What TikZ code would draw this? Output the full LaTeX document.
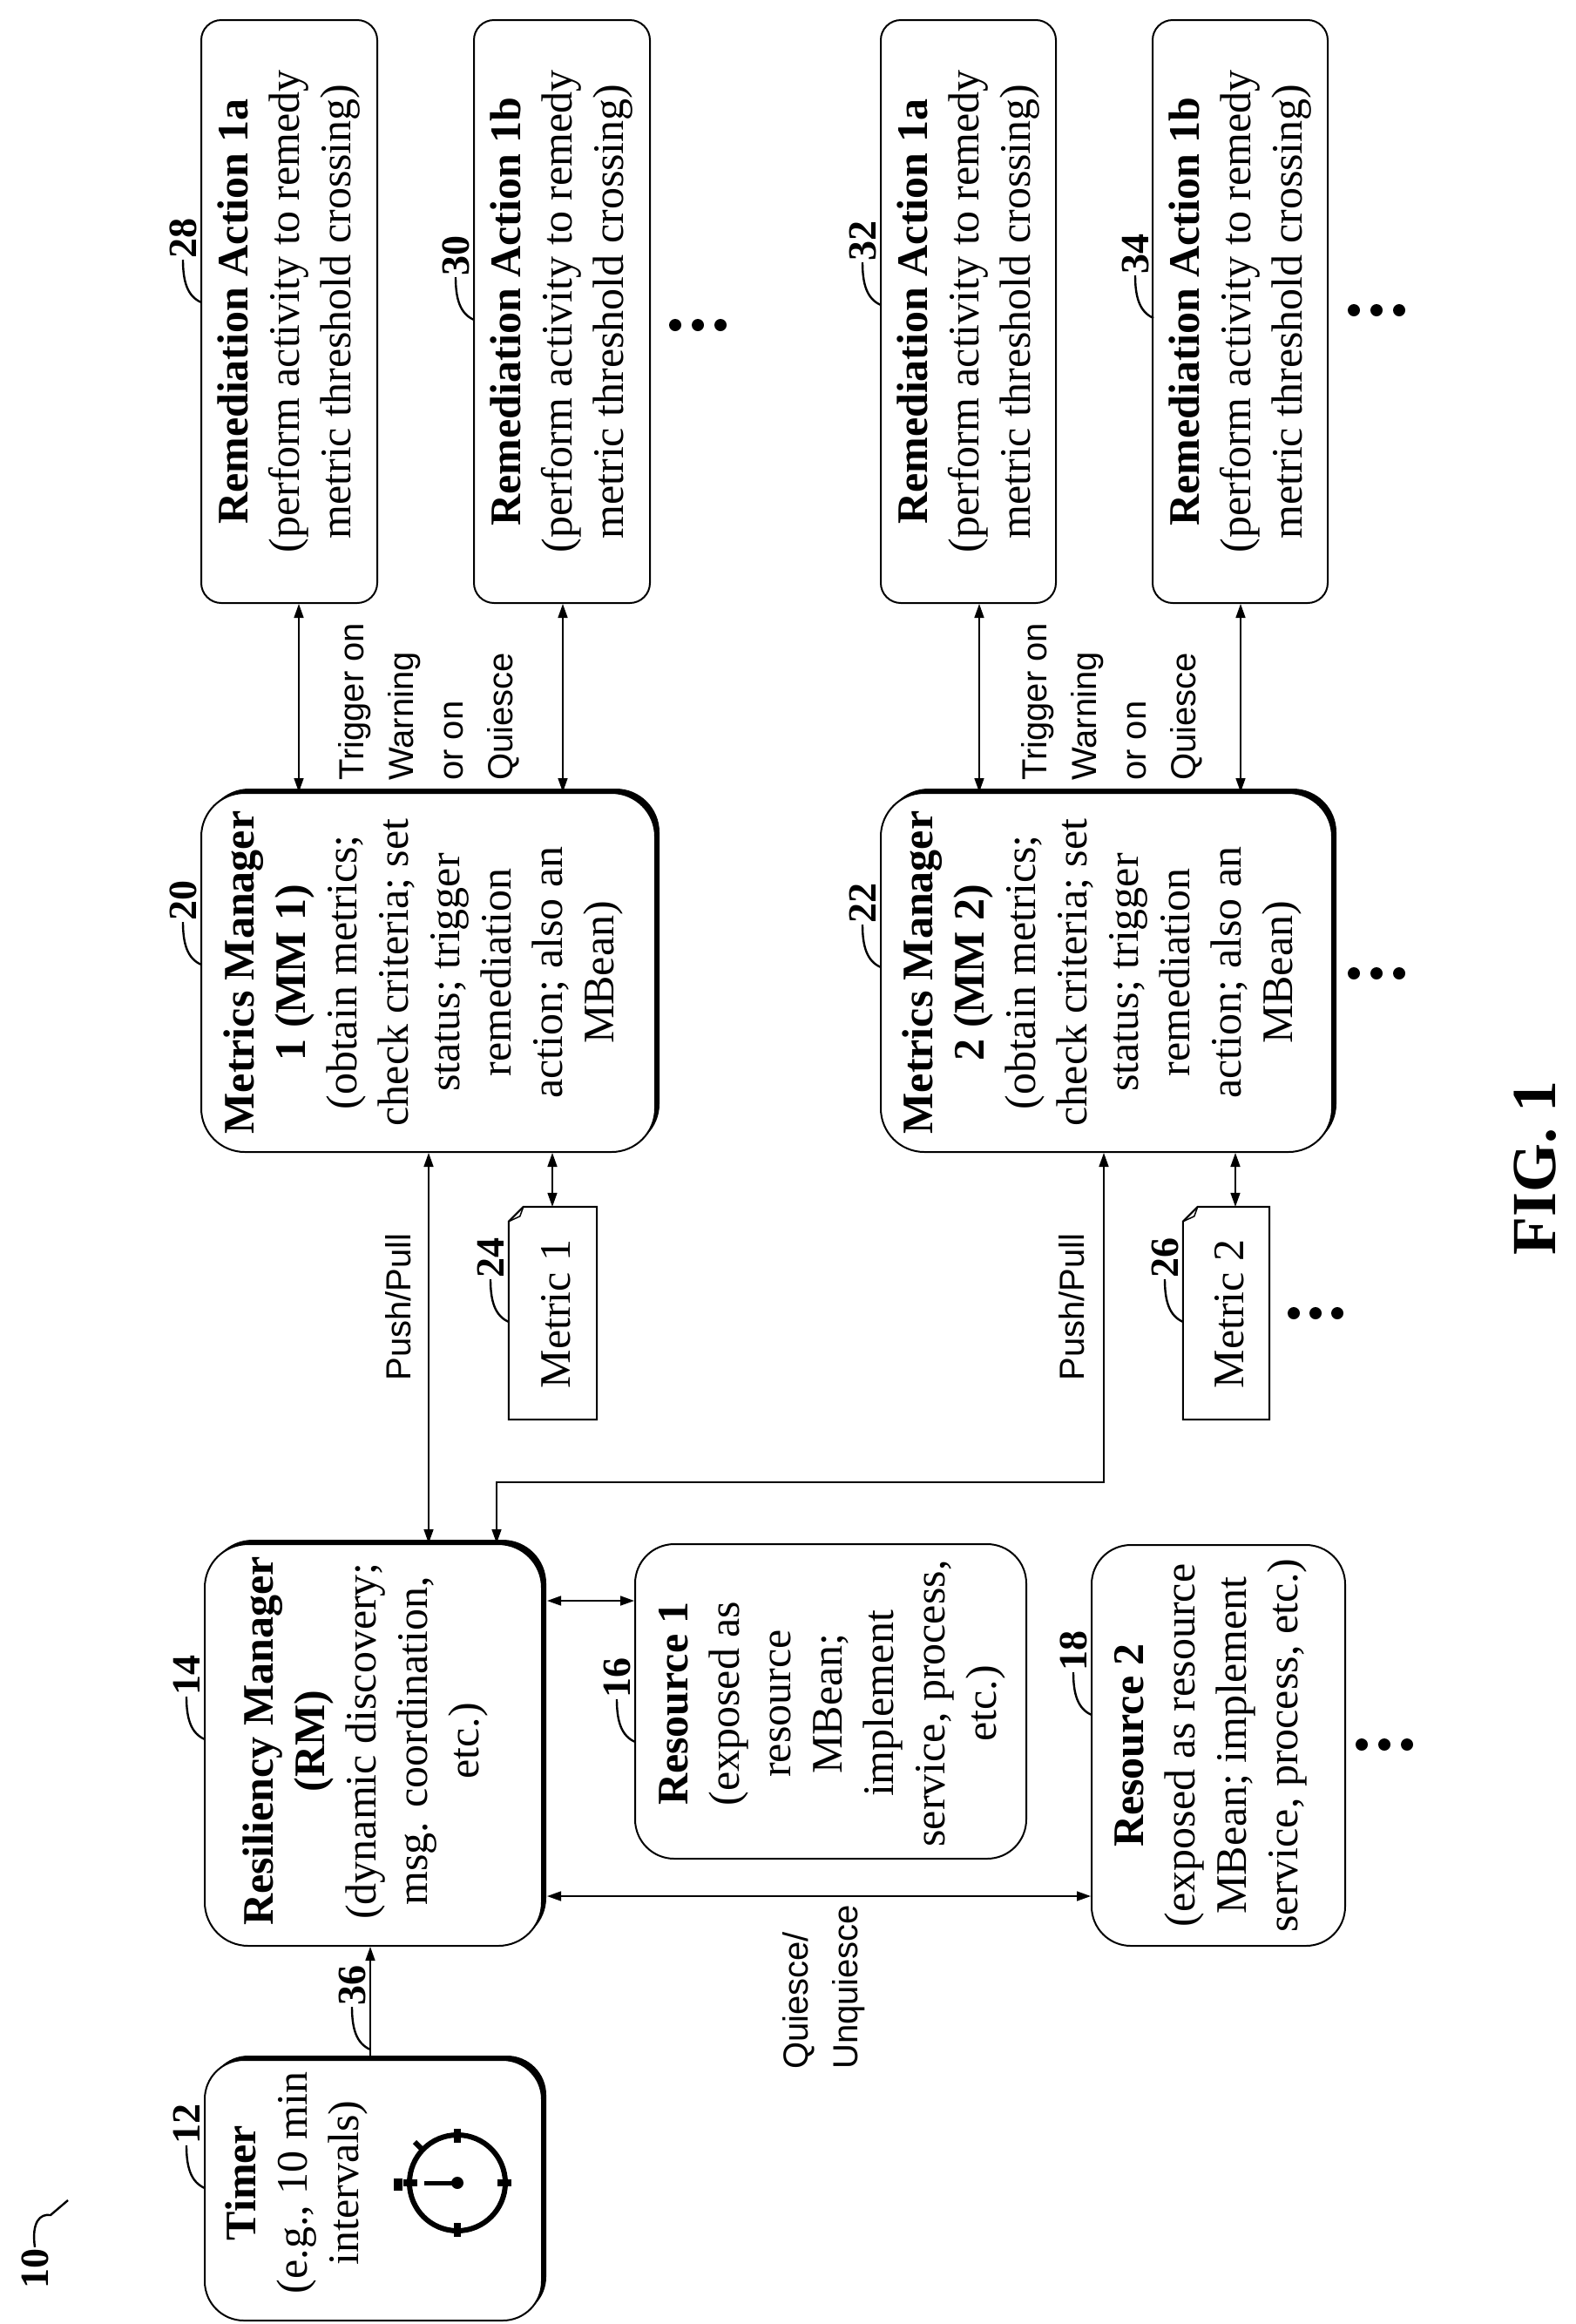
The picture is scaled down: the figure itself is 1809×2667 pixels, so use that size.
\documentclass[tikz,border=0pt]{standalone}
\usepackage{fontspec}
\setmainfont{Liberation Serif}
\setsansfont{Liberation Sans}
\usetikzlibrary{arrows.meta,shadows}
\begin{document}
\begin{tikzpicture}[x=1pt,y=-1pt,
 box/.style={draw,line width=2pt,fill=white,rounded corners=#1,inner sep=0pt},
 shad/.style={drop shadow={shadow xshift=5pt,shadow yshift=5pt,opacity=1,fill=black}},
 txt/.style={rotate=90,align=center,inner sep=0pt,font=\fontsize{50}{59}\selectfont},
 lab/.style={rotate=90,align=left,inner sep=0pt,font=\sffamily\fontsize{40}{57}\selectfont},
 num/.style={rotate=90,anchor=west,inner sep=1pt,font=\bfseries\fontsize{46}{50}\selectfont},
 con/.style={line width=1.6pt},
 dbl/.style={con,{Triangle[length=16pt,width=11pt]}-{Triangle[length=16pt,width=11pt]}},
 one/.style={con,-{Triangle[length=16pt,width=11pt]}},
 hk/.style={line width=2.4pt}]
\useasboundingbox (0,0) rectangle (1809,2667);
\newcommand\refnum[4]{\node[num] (#1) at ({#2-21},{#3-49}) {#4};
  \draw[hk] (#2,#3) .. controls ({#2-16},{#3-7}) and ({#2-21},{#3-24}) .. (#1.west);}
\newcommand\tridots[4]{\fill (#1,#4) circle (7pt); \fill (#2,#4) circle (7pt); \fill (#3,#4) circle (7pt);}

% remediation boxes
\node[box=23pt,minimum width=202pt,minimum height=669pt] (r1a) at (332,357.5) {};
\node[box=23pt,minimum width=202pt,minimum height=669pt] (r1b) at (645,357.5) {};
\node[box=23pt,minimum width=201pt,minimum height=669pt] (r2a) at (1111.5,357.5) {};
\node[box=23pt,minimum width=201pt,minimum height=669pt] (r2b) at (1423.5,357.5) {};
\node[txt] (tr1a) at (r1a) {\textbf{Remediation Action 1a}\\(perform activity to remedy\\metric threshold crossing)};
\node[txt] (tr1b) at (r1b) {\textbf{Remediation Action 1b}\\(perform activity to remedy\\metric threshold crossing)};
\node[txt] (tr2a) at (r2a) {\textbf{Remediation Action 1a}\\(perform activity to remedy\\metric threshold crossing)};
\node[txt] (tr2b) at (r2b) {\textbf{Remediation Action 1b}\\(perform activity to remedy\\metric threshold crossing)};

% metrics managers
\node[box=50pt,shad,minimum width=521pt,minimum height=412pt] (mm1) at (491.5,1116) {};
\node[box=50pt,shad,minimum width=518pt,minimum height=412pt] (mm2) at (1270,1116) {};
\node[txt] (tmm1) at (486,1116) {\textbf{Metrics Manager}\\\textbf{1 (MM 1)}\\(obtain metrics;\\check criteria; set\\status; trigger\\remediation\\action; also an\\MBean)};
\node[txt] (tmm2) at (1265,1116) {\textbf{Metrics Manager}\\\textbf{2 (MM 2)}\\(obtain metrics;\\check criteria; set\\status; trigger\\remediation\\action; also an\\MBean)};

% metrics
\node[minimum width=101pt,minimum height=244pt,inner sep=0pt] (m1) at (634.5,1507) {};
\node[minimum width=99pt,minimum height=244pt,inner sep=0pt] (m2) at (1407.5,1507) {};
\foreach \m in {m1,m2}{
  \draw[line width=2pt] ([yshift=-17pt]\m.north west) -- ([xshift=17pt]\m.north west) -- (\m.north east) -- (\m.south east) -- (\m.south west) -- cycle;
  \draw[line width=1.5pt] ([yshift=-17pt]\m.north west) -- ([xshift=13pt,yshift=-11pt]\m.north west) -- ([xshift=17pt]\m.north west);
}
\node[txt] (tm1) at (638,1508) {Metric 1};
\node[txt] (tm2) at (1411,1508) {Metric 2};

% RM, timer, resources
\node[box=50pt,shad,minimum width=387pt,minimum height=461pt] (rm) at (428.5,2002.5) {};
\node[txt] (trm) at (419,1998) {\textbf{Resiliency Manager}\\\textbf{(RM)}\\(dynamic discovery;\\msg. coordination,\\etc.)};
\node[box=45pt,shad,minimum width=387pt,minimum height=299pt] (timer) at (428.5,2513.5) {};
\node[txt] (ttimer) at (340,2505) {\textbf{Timer}\\(e.g., 10 min\\intervals)};
\node[box=45pt,minimum width=449pt,minimum height=361pt] (res1) at (953.5,1952.5) {};
\node[txt] (tres1) at (955,1955) {\textbf{Resource 1}\\(exposed as\\resource\\MBean;\\implement\\service, process,\\etc.)};
\node[box=45pt,minimum width=291pt,minimum height=460pt] (res2) at (1398.5,2003) {};
\node[txt] (tres2) at (1390,2003) {\textbf{Resource 2}\\(exposed as resource\\MBean; implement\\service, process, etc.)};

% stopwatch
\draw[line width=6pt] (525,2505) circle (55pt);
\foreach \a in {0,90,180,270} \draw[line width=8pt,shift={(525,2505)}] (\a:46pt) -- (\a:62pt);
\draw[line width=5pt] (525,2505) -- (487,2505);
\fill (525,2505) circle (7pt);
\fill (452,2500) rectangle (462,2514);
\draw[line width=6pt] (476,2458) -- (486,2468);

% connectors
\coordinate (c1) at (343,0); \coordinate (c2) at (646,0);
\coordinate (c3) at (1124,0); \coordinate (c4) at (1424,0);
\coordinate (pp1) at (492,0); \coordinate (mt1) at (634,0);
\coordinate (pp2) at (1267,0); \coordinate (mt2) at (1418,0);
\coordinate (bend) at (570,1701); \coordinate (tm) at (425,0);
\coordinate (ry1) at (0,1837); \coordinate (ry2) at (0,2176);
\coordinate (rme) at ([xshift=5pt]rm.east);
\draw[dbl] (r1a.south -| c1) -- (mm1.north -| c1);
\draw[dbl] (r1b.south -| c2) -- (mm1.north -| c2);
\draw[dbl] (r2a.south -| c3) -- (mm2.north -| c3);
\draw[dbl] (r2b.south -| c4) -- (mm2.north -| c4);
\draw[dbl] (mm1.south -| pp1) -- (rm.north -| pp1);
\draw[dbl] (mm1.south -| mt1) -- (m1.north -| mt1);
\draw[dbl] (mm2.south -| mt2) -- (m2.north -| mt2);
\draw[dbl] (mm2.south -| pp2) |- (bend) -- (rm.north -| bend);
\draw[one] (timer.north -| tm) -- (rm.south -| tm);
\draw[dbl] (rme |- ry1) -- (res1.west |- ry1);
\draw[dbl] (rme |- ry2) -- (res2.west |- ry2);

% connector labels
\node[lab,anchor=west] (trig1) at (492,896) {Trigger on\\Warning\\or on\\Quiesce};
\node[lab,anchor=west] (trig2) at (1276,896) {Trigger on\\Warning\\or on\\Quiesce};
\node[lab] (push1) at (457,1500) {Push/Pull};
\node[lab] (push2) at (1230,1500) {Push/Pull};
\node[lab,anchor=west] (quiesce) at (946,2375) {Quiesce/\\Unquiesce};

% reference numerals
\refnum{n28}{231}{347}{28}
\refnum{n30}{544}{367}{30}
\refnum{n32}{1011}{350}{32}
\refnum{n34}{1324}{365}{34}
\refnum{n20}{231}{1107}{20}
\refnum{n22}{1011}{1110}{22}
\refnum{n24}{584}{1517}{24}
\refnum{n26}{1358}{1517}{26}
\refnum{n14}{235}{1996}{14}
\refnum{n12}{235}{2511}{12}
\refnum{n16}{729}{1999}{16}
\refnum{n18}{1253}{1968}{18}
\refnum{n36}{425}{2352}{36}
\node[rotate=90,inner sep=1pt,font=\bfseries\fontsize{46}{50}\selectfont] (n10) at (40,2603) {10};
\draw[hk] (n10.east) .. controls (36,2550) and (46,2540) .. (58,2542) -- (78,2525);

% ellipses
\tridots{775}{801}{827}{373}
\tridots{1554}{1580}{1606}{356}
\tridots{1554}{1580}{1606}{1117}
\tridots{1485}{1510}{1535}{1507}
\tridots{1563}{1589}{1615}{2002}

\node[rotate=90,inner sep=0pt,font=\bfseries\fontsize{72}{80}\selectfont] (fig) at (1762,1340) {FIG. 1};
\end{tikzpicture}
\end{document}
